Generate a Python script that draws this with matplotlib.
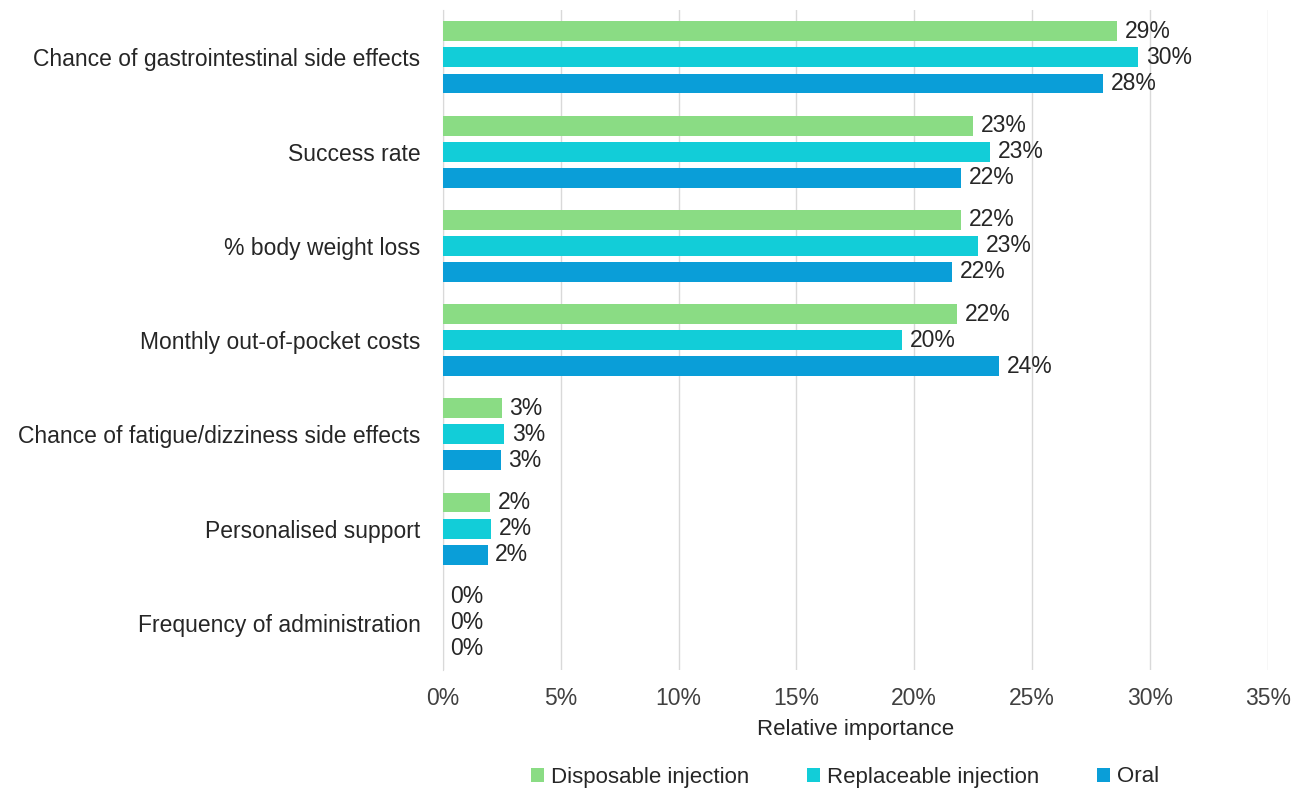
import matplotlib
matplotlib.use('Agg')
import matplotlib.pyplot as plt
import numpy as np

plt.rcParams['font.family'] = ['Liberation Sans', 'DejaVu Sans']

categories = ['Chance of gastrointestinal side effects', 'Success rate',
              '% body weight loss', 'Monthly out-of-pocket costs',
              'Chance of fatigue/dizziness side effects', 'Personalised support',
              'Frequency of administration']
disposable = [28.6, 22.5, 22.0, 21.8, 2.5, 2.0, 0.0]
replaceable = [29.5, 23.2, 22.7, 19.5, 2.6, 2.05, 0.0]
oral = [28.0, 22.0, 21.6, 23.6, 2.45, 1.9, 0.0]
disposable_labels = ['29%', '23%', '22%', '22%', '3%', '2%', '0%']
replaceable_labels = ['30%', '23%', '23%', '20%', '3%', '2%', '0%']
oral_labels = ['28%', '22%', '22%', '24%', '3%', '2%', '0%']
series_names = ['Disposable injection', 'Replaceable injection', 'Oral']
colors = ['#8ADC84', '#12CDD8', '#0A9ED8']
xticks = [0, 5, 10, 15, 20, 25, 30, 35]

fig = plt.figure(figsize=(12.91, 7.91), dpi=100)
ax = fig.add_axes([0.343, 0.153, 0.639, 0.834])

y = np.arange(len(categories))
h = 0.212
step = 0.277
series = [(disposable, disposable_labels), (replaceable, replaceable_labels), (oral, oral_labels)]
for i, ((vals, labs), name, c) in enumerate(zip(series, series_names, colors)):
    pos = y + (i - 1) * step
    ax.barh(pos, vals, height=h, color=c, label=name, zorder=3)
    for p, v, lab in zip(pos, vals, labs):
        ax.text(v + 0.33, p, lab, va='center', ha='left',
                fontsize=16.5, color='#262626')

ax.set_ylim(len(categories) - 0.5, -0.5)
ax.set_yticks(y)
ax.set_yticklabels(categories, fontsize=16.5, color='#262626')
ax.set_xlim(0, 35)
ax.set_xticks(xticks)
ax.set_xticklabels(['%d%%' % t for t in xticks], fontsize=16.5, color='#404040')
ax.tick_params(axis='both', length=0)
ax.tick_params(axis='x', pad=12)
ax.tick_params(axis='y', pad=16)
ax.grid(axis='x', color='#d9d9d9', linewidth=1, zorder=0)
for s in ['top', 'right', 'bottom']:
    ax.spines[s].set_visible(False)
ax.spines['left'].set_color('#d9d9d9')
ax.set_xlabel('Relative importance', fontsize=16, color='#262626', labelpad=7)

handles, labels = ax.get_legend_handles_labels()
fig.legend(handles, labels, loc='center', bbox_to_anchor=(845 / 1291, 1 - 777 / 791),
           ncol=3, frameon=False, fontsize=16, handlelength=0.6, handleheight=0.6,
           handletextpad=0.3, columnspacing=2.6, labelcolor='#262626')

fig.savefig('out.png', dpi=100)
